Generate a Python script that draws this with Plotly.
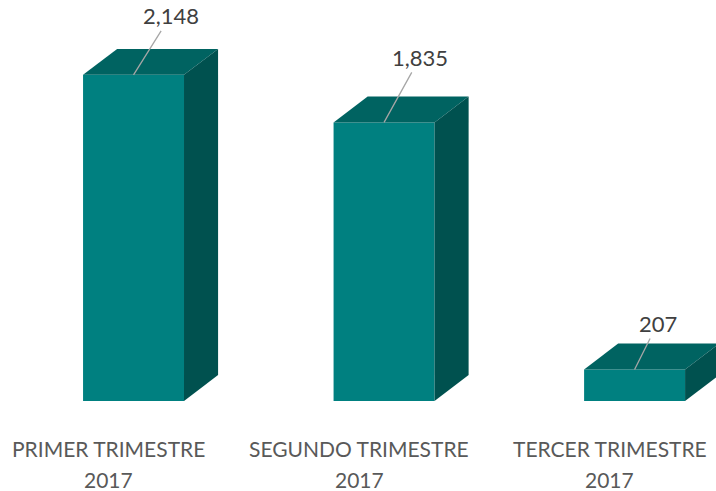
import plotly.graph_objects as go

# data
categories = ["PRIMER TRIMESTRE", "SEGUNDO TRIMESTRE", "TERCER TRIMESTRE"]
years = ["2017", "2017", "2017"]
values = [2148, 1835, 207]

# 3d look
front = "#008080"
top = "#006361"
side = "#00514F"
bar_w = 0.403
dx = 0.136      # depth in x units
dy = 171        # depth in value units

pos = list(range(len(values)))

fig = go.Figure()
fig.add_trace(go.Bar(x=pos, y=values, width=bar_w, marker=dict(color=front, line=dict(width=0)),
                     hoverinfo="skip"))

for p, v in zip(pos, values):
    x0, x1 = p - bar_w / 2, p + bar_w / 2
    # top face
    fig.add_trace(go.Scatter(x=[x0, x1, x1 + dx, x0 + dx, x0], y=[v, v, v + dy, v + dy, v],
                             fill="toself", fillcolor=top, mode="lines", line=dict(width=0),
                             hoverinfo="skip"))
    # right side face
    fig.add_trace(go.Scatter(x=[x1, x1, x1 + dx, x1 + dx, x1], y=[0, v, v + dy, dy, 0],
                             fill="toself", fillcolor=side, mode="lines", line=dict(width=0),
                             hoverinfo="skip"))

# data labels with leader lines
offsets = [(37, -59), (36, -65), (23, -46)]
for p, v, (ox, oy) in zip(pos, values, offsets):
    fig.add_annotation(x=p, y=v, text=f"{v:,}", showarrow=True, arrowhead=0, arrowwidth=1.3,
                       arrowcolor="#A6A6A6", ax=ox, ay=oy, standoff=0,
                       font=dict(family="Lato", size=22, color="#404040"))

# category labels (two lines)
for p, c, yr in zip(pos, categories, years):
    fig.add_annotation(x=p - 0.1, y=-0.155, yref="paper", text=c, showarrow=False,
                       font=dict(family="Lato", size=21, color="#595959"))
    fig.add_annotation(x=p - 0.1, y=-0.232, yref="paper", text=yr, showarrow=False,
                       font=dict(family="Lato", size=21, color="#595959"))

fig.update_layout(
    width=716, height=491,
    margin=dict(l=0, r=0, t=0, b=90),
    plot_bgcolor="white", paper_bgcolor="white",
    showlegend=False,
    xaxis=dict(range=[-0.533, 2.325], visible=False, fixedrange=True),
    yaxis=dict(range=[0, 2641], visible=False, fixedrange=True),
)

# drop the default page margin so the figure fills the window
fig.write_html("out.html", config={"displayModeBar": False},
               post_script="document.body.style.margin='0';")
